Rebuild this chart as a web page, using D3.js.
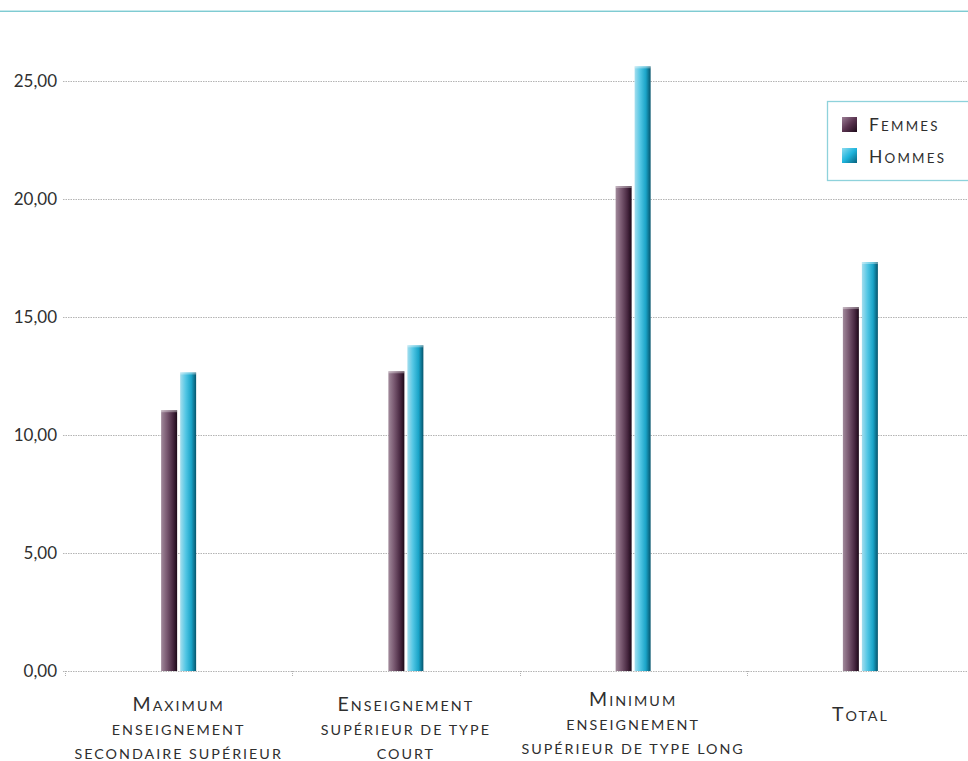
<!DOCTYPE html>
<html>
<head>
<meta charset="utf-8">
<script src="https://cdn.jsdelivr.net/npm/d3@7"></script>
<style>
  html, body { margin: 0; padding: 0; background: #fff; }
  svg { display: block; }
  text { font-family: Lato, "Open Sans", sans-serif; fill: #2f2f2f; }
</style>
</head>
<body>
<svg id="chart" width="968" height="761"></svg>
<script>
// Categories (each split into its wrapped lines), series and values
const categories = [
  "Maximum enseignement secondaire supérieur",
  "Enseignement supérieur de type court",
  "Minimum enseignement supérieur de type long",
  "Total"
];
const categoryLines = [
  ["Maximum", "enseignement", "secondaire supérieur"],
  ["Enseignement", "supérieur de type", "court"],
  ["Minimum", "enseignement", "supérieur de type long"],
  ["Total"]
];
const series = ["Femmes", "Hommes"];
const femmes = [11.05, 12.70, 20.55, 15.42];
const hommes = [12.65, 13.80, 25.62, 17.33];
const yTicks = [0, 5, 10, 15, 20, 25];
const yTickLabels = ["0,00", "5,00", "10,00", "15,00", "20,00", "25,00"];

const values = { Femmes: femmes, Hommes: hommes };

const svg = d3.select("#chart");
const W = 968, H = 761;
const plot = { left: 65, right: 974, top: 81, bottom: 671 };

// Gradients for the cylinder-like bars and legend swatches
const defs = svg.append("defs");
function grad(id, stops, diagonal) {
  const g = defs.append("linearGradient").attr("id", id)
    .attr("x1", "0%").attr("x2", "100%").attr("y1", "0%").attr("y2", diagonal ? "100%" : "0%");
  stops.forEach(s => g.append("stop").attr("offset", s[0]).attr("stop-color", s[1]));
}
grad("grad-Femmes", [["0%", "#a18a9b"], ["35%", "#7a5a72"], ["75%", "#46263f"], ["100%", "#1c0818"]]);
grad("grad-Hommes", [["0%", "#a5deee"], ["35%", "#52c6e4"], ["70%", "#1aa4c8"], ["100%", "#06546c"]]);
grad("sw-Femmes", [["0%", "#9c7e96"], ["50%", "#5a3450"], ["100%", "#1e0a1a"]], true);
grad("sw-Hommes", [["0%", "#8edcf0"], ["50%", "#1fb4dc"], ["100%", "#07617c"]], true);

// Small-caps writer: capitals at full size, other letters as reduced capitals
function smallCaps(textSel, str, big, small) {
  const runs = [];
  for (const ch of str) {
    const isCap = ch !== ch.toLowerCase();
    const last = runs[runs.length - 1];
    if (last && last.cap === isCap) last.s += ch; else runs.push({ cap: isCap, s: ch });
  }
  runs.forEach(r => textSel.append("tspan")
    .attr("font-size", r.cap ? big : small)
    .text(r.s.toUpperCase()));
}

// Top rule
svg.append("line").attr("x1", 0).attr("x2", W).attr("y1", 10.5).attr("y2", 10.5)
  .attr("stroke", "#c6e9ec").attr("stroke-width", 1);
svg.append("line").attr("x1", 0).attr("x2", W).attr("y1", 11.5).attr("y2", 11.5)
  .attr("stroke", "#7fcbd2").attr("stroke-width", 1.2);

// Scales
const y = d3.scaleLinear().domain([0, 25]).range([plot.bottom, plot.top]);
const x0 = d3.scaleBand().domain(categories).range([plot.left, plot.right]).padding(0);
const x1 = d3.scaleBand().domain(series).range([-17.5, 17.5]).paddingInner(3 / 19).paddingOuter(0);

// Gridlines (dotted)
svg.append("g").selectAll("line").data(yTicks).join("line")
  .attr("x1", plot.left - 2).attr("x2", W)
  .attr("y1", d => Math.round(y(d)) + 0.5).attr("y2", d => Math.round(y(d)) + 0.5)
  .attr("stroke", "#b4b4b4").attr("stroke-width", 1).attr("stroke-dasharray", "1.5,1");

// Y axis labels
const yAxis = d3.axisLeft(y).tickValues(yTicks).tickSize(0).tickPadding(0)
  .tickFormat((d, i) => yTickLabels[i]);
const gy = svg.append("g").attr("transform", `translate(${plot.left - 8},0)`).call(yAxis);
gy.select(".domain").remove();
gy.selectAll("text").attr("font-size", 17).attr("fill", "#2f2f2f")
  .style("font-family", "Lato, sans-serif").attr("dy", "0.34em");

// Category separator ticks below the baseline
const bounds = categories.map(c => x0(c));
svg.append("g").selectAll("line").data(bounds).join("line")
  .attr("x1", d => Math.round(d) + 0.5).attr("x2", d => Math.round(d) + 0.5)
  .attr("y1", plot.bottom).attr("y2", plot.bottom + 6)
  .attr("stroke", "#b0b0b0").attr("stroke-dasharray", "1,1");

// Bars
const groups = svg.append("g").selectAll("g").data(categories).join("g")
  .attr("transform", c => `translate(${x0(c) + x0.bandwidth() / 2},0)`);
groups.each(function (c, i) {
  const g = d3.select(this);
  series.forEach(s => {
    const v = values[s][i];
    g.append("rect")
      .attr("x", x1(s)).attr("width", x1.bandwidth())
      .attr("y", y(v)).attr("height", y(0) - y(v))
      .attr("fill", `url(#grad-${s})`);
    // soft highlight cap at the top of each bar
    g.append("rect")
      .attr("x", x1(s)).attr("width", x1.bandwidth())
      .attr("y", y(v)).attr("height", 2)
      .attr("fill", "#ffffff").attr("opacity", 0.35);
  });
});

// Category labels in small caps, block centred under each group
const lineGap = 24;
categories.forEach((c, i) => {
  const cx = x0(c) + x0.bandwidth() / 2;
  const lines = categoryLines[i];
  const firstBaseline = lines.length === 1 ? 721 : (i === 2 ? 706 : 711);
  lines.forEach((line, j) => {
    const t = svg.append("text")
      .attr("x", cx).attr("y", firstBaseline + j * lineGap)
      .attr("text-anchor", "middle")
      .style("letter-spacing", "2px");
    smallCaps(t, line, 19.5, 14.3);
  });
});

// Legend
const legend = svg.append("g").attr("transform", "translate(827,101)");
legend.append("rect").attr("x", 0.5).attr("y", 0.5).attr("width", 160).attr("height", 79)
  .attr("fill", "#fff").attr("stroke", "#8ed2db").attr("stroke-width", 1.3);
series.forEach((s, i) => {
  legend.append("rect").attr("x", 15).attr("y", 16 + i * 31).attr("width", 15).attr("height", 15)
    .attr("fill", `url(#sw-${s})`);
  const t = legend.append("text").attr("x", 42).attr("y", 30 + i * 32)
    .style("letter-spacing", "2.2px");
  smallCaps(t, s, 17.5, 13.4);
});
</script>
</body>
</html>
